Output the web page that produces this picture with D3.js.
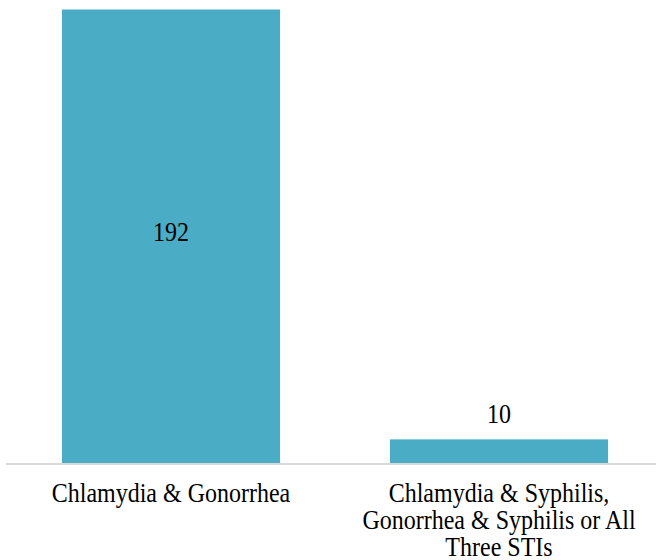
<!DOCTYPE html>
<html><head><meta charset="utf-8">
<script src="https://cdn.jsdelivr.net/npm/d3@7"></script>
<style>body{margin:0;background:#fff}</style>
</head><body>
<svg id="c" width="656" height="560"></svg>
<script>
const categories = ["Chlamydia & Gonorrhea", "Chlamydia & Syphilis, Gonorrhea & Syphilis or All Three STIs"];
const categoryLines = [["Chlamydia & Gonorrhea"], ["Chlamydia & Syphilis,", "Gonorrhea & Syphilis or All", "Three STIs"]];
const values = [192, 10];

const svg = d3.select("#c");
const font = "'Liberation Serif', 'Times New Roman', serif";
const baseY = 463;
const fs = 24, sy = 1.1;
const x = d3.scaleBand().domain(categories).range([7, 663]).paddingInner(0.335).paddingOuter(0.1675);
const y = d3.scaleLinear().domain([0, 192]).range([baseY, 9.5]);

svg.selectAll("rect.bar").data(values).join("rect")
  .attr("class", "bar")
  .attr("x", (d, i) => x(categories[i]))
  .attr("width", x.bandwidth())
  .attr("y", d => y(d))
  .attr("height", d => baseY - y(d))
  .attr("fill", "#4bacc6");

svg.append("line").attr("x1", 6).attr("x2", 656).attr("y1", baseY + 1).attr("y2", baseY + 1)
  .attr("stroke", "#d9d9d9").attr("stroke-width", 2);

function label(cx, by, lines) {
  const t = svg.append("text")
    .attr("transform", `translate(${cx},${by}) scale(1,${sy})`)
    .attr("text-anchor", "middle")
    .attr("font-family", font).attr("font-size", fs).attr("fill", "#000");
  lines.forEach((l, j) => {
    t.append("tspan").attr("x", 0).attr("y", j * 27 / sy).text(l);
  });
}

values.forEach((d, i) => {
  const cx = x(categories[i]) + x.bandwidth() / 2;
  const by = d > 50 ? (y(d) + baseY) / 2 + 5 : y(d) - 16;
  label(cx, by, [String(d)]);
});

categoryLines.forEach((lines, i) => {
  label(x(categories[i]) + x.bandwidth() / 2, 502, lines);
});
</script>
</body></html>
